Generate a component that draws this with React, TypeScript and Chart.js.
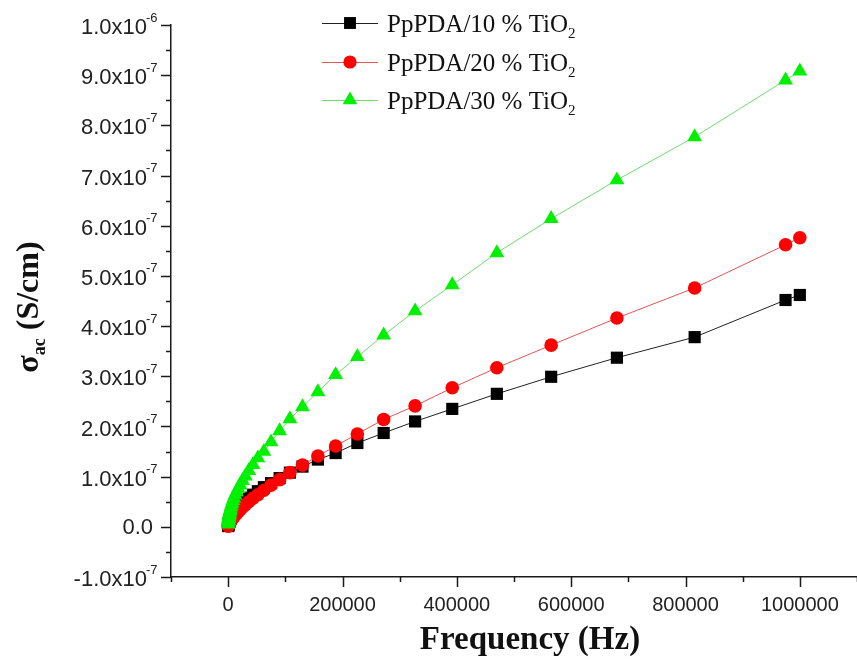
import React, { useEffect, useRef } from 'react';
import { Chart, registerables } from 'chart.js';

Chart.register(...registerables);

// ---------- data ----------
const frequencyHz = [
  100, 300, 500, 750, 900, 1100, 1300, 1600, 1900, 2300, 2800, 3300, 4000, 4800, 5800, 6900, 8300,
  10000, 12000, 14500, 17400, 20900, 25000, 30100, 36100, 43400, 52000, 62500, 75000, 90000,
  108000, 130000, 157000, 188000, 226000, 272000, 327000, 392000, 470000, 565000, 680000, 816000,
  975000, 1000000,
];

const sigma10 = [
  0.015e-7, 0.03e-7, 0.04e-7, 0.05e-7, 0.06e-7, 0.07e-7, 0.08e-7, 0.09e-7, 0.10e-7, 0.11e-7, 0.13e-7,
  0.14e-7, 0.16e-7, 0.18e-7, 0.20e-7, 0.22e-7, 0.25e-7, 0.28e-7, 0.31e-7, 0.34e-7, 0.38e-7, 0.42e-7,
  0.47e-7, 0.52e-7, 0.58e-7, 0.64e-7, 0.71e-7, 0.79e-7, 0.87e-7, 0.97e-7, 1.08e-7, 1.20e-7, 1.34e-7,
  1.47e-7, 1.67e-7, 1.87e-7, 2.10e-7, 2.35e-7, 2.65e-7, 2.99e-7, 3.37e-7, 3.78e-7, 4.52e-7, 4.62e-7,
];

const sigma20 = [
  0.01e-7, 0.02e-7, 0.03e-7, 0.035e-7, 0.04e-7, 0.045e-7, 0.05e-7, 0.055e-7, 0.06e-7, 0.07e-7, 0.08e-7,
  0.09e-7, 0.105e-7, 0.12e-7, 0.14e-7, 0.16e-7, 0.18e-7, 0.20e-7, 0.23e-7, 0.26e-7, 0.30e-7, 0.34e-7,
  0.39e-7, 0.44e-7, 0.50e-7, 0.57e-7, 0.64e-7, 0.73e-7, 0.83e-7, 0.94e-7, 1.08e-7, 1.23e-7, 1.41e-7,
  1.61e-7, 1.85e-7, 2.14e-7, 2.41e-7, 2.77e-7, 3.17e-7, 3.62e-7, 4.16e-7, 4.76e-7, 5.62e-7, 5.76e-7,
];

const sigma30 = [
  0.05e-7, 0.09e-7, 0.12e-7, 0.15e-7, 0.16e-7, 0.18e-7, 0.20e-7, 0.22e-7, 0.24e-7, 0.26e-7, 0.29e-7,
  0.32e-7, 0.35e-7, 0.39e-7, 0.43e-7, 0.47e-7, 0.52e-7, 0.57e-7, 0.63e-7, 0.69e-7, 0.76e-7, 0.83e-7,
  0.92e-7, 1.01e-7, 1.12e-7, 1.24e-7, 1.37e-7, 1.50e-7, 1.69e-7, 1.91e-7, 2.15e-7, 2.39e-7, 2.69e-7,
  3.03e-7, 3.39e-7, 3.82e-7, 4.30e-7, 4.82e-7, 5.46e-7, 6.14e-7, 6.91e-7, 7.77e-7, 8.90e-7, 9.08e-7,
];

const seriesNames = ['PpPDA/10 % TiO', 'PpPDA/20 % TiO', 'PpPDA/30 % TiO'];
const seriesSubscript = '2';

const xMajorTicks = [0, 200000, 400000, 600000, 800000, 1000000];
const xMajorLabels = ['0', '200000', '400000', '600000', '800000', '1000000'];
const xMinorTicks = [-100000, 100000, 300000, 500000, 700000, 900000, 1100000];

const yMajorTicks = [-1e-7, 0, 1e-7, 2e-7, 3e-7, 4e-7, 5e-7, 6e-7, 7e-7, 8e-7, 9e-7, 1e-6];
const yMantissas = ['-1.0', '0.0', '1.0', '2.0', '3.0', '4.0', '5.0', '6.0', '7.0', '8.0', '9.0', '1.0'];
const yExponents = ['-7', '', '-7', '-7', '-7', '-7', '-7', '-7', '-7', '-7', '-7', '-6'];
const yMinorTicks = [-0.5e-7, 0.5e-7, 1.5e-7, 2.5e-7, 3.5e-7, 4.5e-7, 5.5e-7, 6.5e-7, 7.5e-7, 8.5e-7, 9.5e-7];

const xTitle = 'Frequency (Hz)';
const yTitleMain = 'σ';
const yTitleSub = 'ac';
const yTitleRest = ' (S/cm)';

// ---------- styles ----------
const AXIS = '#1a1a1a';
const SANS = '"Liberation Sans", Arial, sans-serif';
const SERIF = '"Liberation Serif", "Times New Roman", serif';

const styles = [
  { line: '#222222', fill: '#000000', shape: 'rect', radius: 8.6 },
  { line: '#e05555', fill: '#ff0000', shape: 'circle', radius: 6.8 },
  { line: '#6fdc6f', fill: '#00f000', shape: 'triangle', radius: 8.6 },
];

function drawMarker(ctx: CanvasRenderingContext2D, shape: string, x: number, y: number, r: number, fill: string) {
  ctx.fillStyle = fill;
  ctx.beginPath();
  if (shape === 'rect') {
    const s = r * Math.SQRT1_2;
    ctx.rect(x - s, y - s, 2 * s, 2 * s);
  } else if (shape === 'circle') {
    ctx.arc(x, y, r, 0, Math.PI * 2);
  } else {
    const w = r * Math.sin(Math.PI / 3);
    ctx.moveTo(x, y - r);
    ctx.lineTo(x + w, y + r / 2);
    ctx.lineTo(x - w, y + r / 2);
    ctx.closePath();
  }
  ctx.fill();
}

const overlayPlugin = {
  id: 'overlay',
  afterDraw(chart: any) {
    const ctx: CanvasRenderingContext2D = chart.ctx;
    const xs = chart.scales.x;
    const ys = chart.scales.y;
    const area = chart.chartArea;
    ctx.save();

    // ticks
    ctx.strokeStyle = AXIS;
    ctx.lineWidth = 1.5;
    ctx.beginPath();
    for (const v of yMajorTicks) {
      const py = Math.round(ys.getPixelForValue(v)) + 0.5;
      ctx.moveTo(area.left - 10, py);
      ctx.lineTo(area.left, py);
    }
    for (const v of yMinorTicks) {
      const py = Math.round(ys.getPixelForValue(v)) + 0.5;
      ctx.moveTo(area.left - 5, py);
      ctx.lineTo(area.left, py);
    }
    for (const v of xMajorTicks) {
      const px = Math.round(xs.getPixelForValue(v)) + 0.5;
      ctx.moveTo(px, area.bottom);
      ctx.lineTo(px, area.bottom + 10);
    }
    for (const v of xMinorTicks) {
      const px = Math.round(xs.getPixelForValue(v)) + 0.5;
      ctx.moveTo(px, area.bottom);
      ctx.lineTo(px, area.bottom + 5);
    }
    ctx.stroke();

    // y tick labels
    ctx.fillStyle = '#222';
    ctx.textBaseline = 'middle';
    yMajorTicks.forEach((v, i) => {
      const py = ys.getPixelForValue(v);
      const exp = yExponents[i];
      if (exp) {
        ctx.font = `22px ${SANS}`;
        ctx.textAlign = 'right';
        const m = yMantissas[i] + 'x10';
        ctx.fillText(m, 147, py + 3);
        ctx.font = `13px ${SANS}`;
        ctx.textAlign = 'left';
        ctx.fillText(exp, 146, py - 7);
      } else {
        ctx.font = `22px ${SANS}`;
        ctx.textAlign = 'right';
        ctx.fillText(yMantissas[i], 153, py + 1);
      }
    });

    // x tick labels
    ctx.font = `20px ${SANS}`;
    ctx.textAlign = 'center';
    ctx.textBaseline = 'middle';
    xMajorTicks.forEach((v, i) => {
      ctx.fillText(xMajorLabels[i], xs.getPixelForValue(v), area.bottom + 28);
    });

    // x title
    ctx.fillStyle = '#111';
    ctx.font = `bold 33px ${SERIF}`;
    ctx.textAlign = 'center';
    ctx.textBaseline = 'alphabetic';
    ctx.fillText(xTitle, 530, 649);

    // y title (rotated)
    ctx.save();
    ctx.translate(38, (area.top + area.bottom) / 2 + 6);
    ctx.rotate(-Math.PI / 2);
    ctx.textAlign = 'left';
    ctx.font = `bold 32px ${SERIF}`;
    const wMain = ctx.measureText(yTitleMain).width;
    const wRest = ctx.measureText(yTitleRest).width;
    ctx.font = `bold 18px ${SERIF}`;
    const wSub = ctx.measureText(yTitleSub).width;
    const total = wMain + wSub + wRest;
    let cx = -total / 2;
    ctx.font = `bold 32px ${SERIF}`;
    ctx.fillText(yTitleMain, cx, 0);
    cx += wMain;
    ctx.font = `bold 18px ${SERIF}`;
    ctx.fillText(yTitleSub, cx, 7);
    cx += wSub;
    ctx.font = `bold 32px ${SERIF}`;
    ctx.fillText(yTitleRest, cx, 0);
    ctx.restore();

    // legend
    const rowsY = [23, 62, 100];
    styles.forEach((st, i) => {
      const y = rowsY[i];
      ctx.strokeStyle = st.line;
      ctx.lineWidth = 1;
      ctx.beginPath();
      ctx.moveTo(322, y + 0.5);
      ctx.lineTo(378, y + 0.5);
      ctx.stroke();
      const r = st.shape === 'rect' ? 8.4 : st.shape === 'circle' ? 6.6 : 8.4;
      drawMarker(ctx, st.shape, 350, y, r, st.fill);
      ctx.fillStyle = '#111';
      ctx.font = `25px ${SERIF}`;
      ctx.textAlign = 'left';
      ctx.textBaseline = 'alphabetic';
      ctx.fillText(seriesNames[i], 387, y + 9);
      const w = ctx.measureText(seriesNames[i]).width;
      ctx.font = `15px ${SERIF}`;
      ctx.fillText(seriesSubscript, 387 + w, y + 15);
    });

    ctx.restore();
  },
};

export default function App() {
  const canvasRef = useRef<HTMLCanvasElement | null>(null);

  useEffect(() => {
    const canvas = canvasRef.current;
    if (!canvas) return;
    const mk = (data: number[], i: number, order: number) => ({
      label: seriesNames[i] + seriesSubscript,
      data: frequencyHz.map((f, k) => ({ x: f, y: data[k] })),
      borderColor: styles[i].line,
      borderWidth: 1,
      backgroundColor: styles[i].fill,
      pointBackgroundColor: styles[i].fill,
      pointBorderWidth: 0,
      pointBorderColor: styles[i].fill,
      pointStyle: styles[i].shape,
      pointRadius: styles[i].radius,
      pointHoverRadius: styles[i].radius,
      showLine: true,
      fill: false,
      tension: 0,
      order,
    });
    const chart = new Chart(canvas, {
      type: 'scatter',
      data: {
        datasets: [mk(sigma10, 0, 3), mk(sigma20, 1, 2), mk(sigma30, 2, 1)] as any,
      },
      options: {
        animation: false,
        responsive: false,
        devicePixelRatio: 1,
        layout: { autoPadding: false, padding: { left: 171, right: 0, top: 25, bottom: 83 } },
        plugins: { legend: { display: false }, tooltip: { enabled: false } },
        scales: {
          x: {
            type: 'linear',
            min: -100000,
            max: 1100000,
            grid: { display: false, drawTicks: false },
            border: { display: true, color: AXIS, width: 1.5 },
            ticks: { display: false },
          },
          y: {
            type: 'linear',
            min: -1e-7,
            max: 1e-6,
            grid: { display: false, drawTicks: false },
            border: { display: true, color: AXIS, width: 1.5 },
            ticks: { display: false },
          },
        },
      },
      plugins: [overlayPlugin],
    });
    return () => chart.destroy();
  }, []);

  return (
    <div style={{ position: 'absolute', left: 0, top: 0, width: 857, height: 660, background: '#fff' }}>
      <canvas ref={canvasRef} width={857} height={660} style={{ display: 'block', width: 857, height: 660 }} />
    </div>
  );
}
